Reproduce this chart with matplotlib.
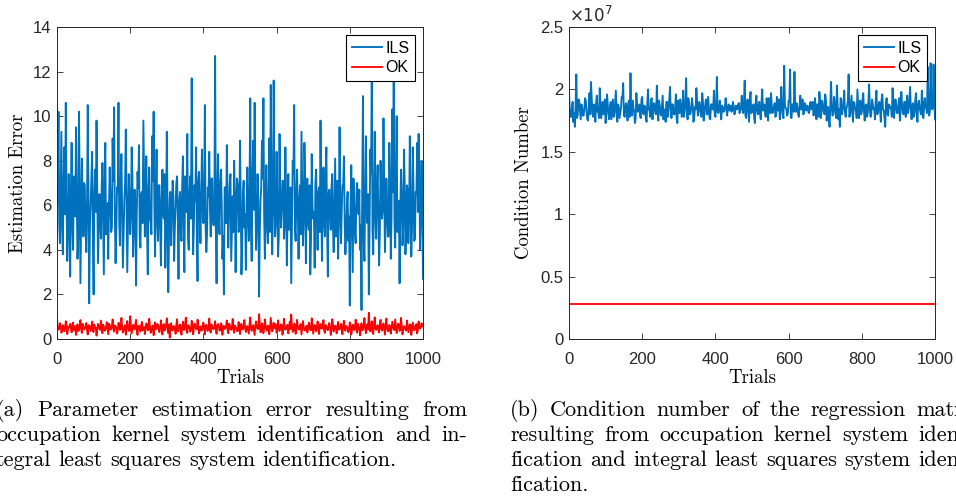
import numpy as np
import matplotlib
matplotlib.use("Agg")
import matplotlib.pyplot as plt
from matplotlib.ticker import FuncFormatter

# values, on two interleaved trial grids
trials_a = np.arange(0, 1001, 4)   # 0, 4, 8, ... 1000
trials_b = np.arange(2, 1000, 4)   # 2, 6, 10, ... 998

ils_err_a = [
    8.7, 10.2, 4.3, 9.3, 3.8, 8.6, 10.6, 3.5, 7.4, 2.8,
    8.8, 4.0, 7.2, 9.5, 3.6, 10.2, 2.5, 8.1, 4.6, 6.9,
    3.9, 10.5, 1.6, 6.1, 8.4, 2.0, 7.6, 9.8, 3.4, 6.5,
    4.5, 7.9, 2.9, 8.8, 5.0, 3.6, 7.7, 4.8, 9.0, 10.4,
    3.4, 6.8, 10.6, 4.2, 8.3, 3.2, 6.2, 9.4, 3.0, 7.4,
    4.7, 8.6, 3.7, 6.7, 2.4, 7.5, 8.7, 4.1, 6.6, 9.8,
    4.6, 8.2, 2.9, 7.7, 5.2, 9.1, 10.2, 3.7, 8.5, 4.4,
    6.9, 3.3, 7.6, 5.4, 3.2, 9.3, 2.1, 6.3, 4.2, 7.1,
    3.5, 5.9, 7.3, 2.7, 6.6, 4.4, 8.2, 3.0, 6.1, 9.2,
    4.0, 7.3, 11.7, 3.8, 6.9, 8.6, 2.6, 7.5, 4.3, 8.5,
    5.2, 10.5, 3.9, 6.8, 8.4, 4.6, 7.2, 5.1, 12.7, 2.5,
    8.3, 4.7, 7.6, 3.6, 2.0, 6.8, 8.7, 4.1, 7.0, 3.5,
    6.4, 8.0, 3.0, 7.2, 4.8, 8.9, 2.9, 6.5, 5.0, 3.1,
    7.7, 4.4, 10.8, 3.5, 8.9, 10.6, 4.0, 7.4, 1.9, 6.2,
    8.9, 10.8, 3.6, 7.8, 4.3, 9.0, 11.4, 3.8, 11.6, 4.6,
    8.4, 3.7, 9.2, 5.0, 7.1, 4.5, 8.6, 3.3, 7.4, 5.2,
    2.5, 8.0, 10.5, 4.4, 7.6, 3.6, 6.9, 9.3, 4.2, 8.8,
    3.4, 7.2, 4.9, 2.9, 8.3, 5.4, 3.2, 7.6, 4.0, 6.8,
    9.8, 3.5, 7.7, 4.6, 8.6, 2.8, 6.7, 4.9, 7.4, 3.9,
    8.1, 5.5, 3.6, 9.5, 4.3, 6.9, 8.2, 3.8, 6.0, 4.4,
    1.5, 7.8, 3.0, 6.1, 4.3, 7.0, 5.6, 4.0, 1.3, 10.9,
    3.5, 9.1, 5.2, 2.0, 8.5, 11.8, 3.8, 9.3, 4.5, 7.8,
    3.3, 8.0, 5.4, 9.9, 3.9, 7.2, 4.6, 8.8, 3.6, 10.3,
    11.8, 4.1, 10.0, 5.5, 2.5, 7.6, 4.2, 8.5, 3.8, 6.9,
    4.3, 9.1, 3.7, 8.6, 4.4, 6.6, 8.8, 9.2, 4.0, 8.0,
    2.7,
]
ils_err_b = [
    6.1, 5.2, 6.8, 4.9, 7.1, 5.6, 6.3, 4.7, 5.9, 6.6,
    5.0, 7.3, 5.5, 6.2, 4.6, 6.9, 5.3, 6.0, 7.0, 4.8,
    5.8, 6.5, 5.1, 7.2, 4.5, 6.4, 5.7, 6.7, 4.9, 5.4,
    6.8, 5.2, 7.4, 4.7, 6.1, 5.9, 6.3, 5.0, 7.1, 5.6,
    4.8, 6.6, 5.3, 6.9, 5.8, 4.6, 7.0, 6.2, 5.1, 6.4,
    5.5, 7.3, 4.9, 6.0, 5.7, 6.8, 4.5, 6.5, 5.2, 7.2,
    6.1, 5.0, 6.7, 5.4, 4.7, 7.1, 5.9, 6.3, 5.3, 6.9,
    4.8, 6.2, 5.6, 7.4, 5.1, 6.0, 4.6, 6.6, 5.8, 6.4,
    5.0, 7.0, 5.5, 6.1, 4.9, 6.8, 5.2, 7.3, 5.7, 4.5,
    6.5, 5.4, 6.9, 5.1, 6.2, 4.8, 7.1, 5.6, 6.3, 5.9,
    6.7, 5.0, 4.7, 6.4, 5.8, 7.2, 5.3, 6.0, 4.9, 6.6,
    5.5, 7.0, 6.1, 4.6, 6.8, 5.2, 6.3, 5.7, 7.4, 5.0,
    4.8, 6.5, 5.9, 6.9, 5.1, 6.2, 4.5, 7.1, 5.6, 6.0,
    5.4, 6.7, 4.9, 7.3, 5.8, 6.4, 5.2, 6.1, 4.7, 6.8,
    7.2, 5.5, 6.6, 5.0, 6.3, 4.8, 7.0, 5.7, 6.9, 5.3,
    6.0, 4.6, 6.5, 5.9, 7.1, 5.1, 6.2, 5.6, 4.9, 6.8,
    5.4, 7.4, 5.0, 6.4, 5.8, 6.1, 4.7, 6.7, 5.3, 7.2,
    6.3, 5.2, 6.9, 4.5, 6.0, 5.7, 7.0, 5.5, 6.6, 4.8,
    5.9, 6.2, 5.1, 7.3, 4.9, 6.5, 5.6, 6.8, 5.0, 6.1,
    4.6, 7.1, 5.4, 6.3, 5.8, 6.9, 5.2, 4.7, 6.6, 5.5,
    6.0, 5.3, 7.2, 4.8, 6.4, 5.9, 6.7, 5.1, 7.0, 4.5,
    6.2, 5.7, 6.5, 5.0, 7.4, 4.9, 6.1, 5.6, 6.8, 5.4,
    4.7, 6.3, 5.8, 7.1, 5.2, 6.0, 4.6, 6.9, 5.5, 6.6,
    5.3, 7.3, 4.8, 6.2, 5.9, 6.4, 5.1, 7.0, 4.9, 6.7,
    5.6, 6.1, 5.0, 6.8, 4.5, 6.5, 5.7, 7.2, 5.4, 6.3,
]

ok_err_a = [
    0.95, 0.42, 0.71, 0.28, 0.62, 0.35, 0.80, 0.22, 0.55, 0.68,
    0.30, 0.74, 0.45, 0.18, 0.66, 0.39, 0.85, 0.27, 0.58, 0.49,
    0.72, 0.20, 0.61, 0.36, 0.79, 0.31, 0.52, 0.15, 0.68, 0.44,
    0.83, 0.26, 0.57, 0.40, 0.76, 0.21, 0.63, 0.47, 0.88, 0.33,
    0.59, 0.24, 0.73, 0.41, 0.95, 0.29, 0.54, 0.19, 0.81, 0.37,
    1.02, 0.25, 0.64, 0.43, 0.86, 0.18, 0.60, 0.34, 0.77, 0.48,
    0.22, 0.70, 0.39, 0.91, 0.28, 0.56, 0.17, 0.75, 0.45, 0.62,
    0.31, 0.84, 0.20, 0.67, 0.50, 0.93, 0.26, 0.06, 0.71, 0.38,
    0.58, 0.23, 0.89, 0.35, 0.65, 0.19, 0.78, 0.42, 0.96, 0.27,
    0.61, 0.33, 0.82, 0.21, 0.69, 0.46, 0.87, 0.25, 0.57, 0.40,
    0.74, 0.20, 0.63, 0.36, 0.92, 0.29, 0.55, 0.44, 0.80, 0.23,
    0.67, 0.38, 0.71, 0.19, 0.59, 0.47, 0.83, 0.26, 0.64, 0.41,
    0.90, 0.28, 0.53, 0.35, 0.76, 0.22, 0.68, 0.43, 0.85, 0.31,
    0.58, 0.24, 0.97, 0.37, 0.62, 0.18, 0.79, 0.45, 1.12, 0.30,
    0.70, 0.26, 0.88, 0.40, 0.60, 0.21, 0.95, 0.34, 0.73, 0.48,
    0.27, 0.84, 0.36, 0.66, 0.19, 0.91, 0.42, 0.57, 0.25, 0.78,
    1.10, 0.32, 0.69, 0.23, 0.86, 0.44, 0.61, 0.20, 0.81, 0.38,
    0.55, 0.29, 0.74, 0.41, 0.93, 0.24, 0.63, 0.35, 0.79, 0.22,
    0.67, 0.46, 0.85, 0.27, 0.58, 0.39, 0.72, 0.18, 0.89, 0.33,
    0.60, 0.25, 0.77, 0.43, 0.68, 0.21, 0.82, 0.37, 0.56, 0.30,
    0.75, 0.20, 0.64, 0.40, 0.87, 0.28, 0.59, 0.16, 0.71, 0.45,
    0.94, 0.26, 0.66, 1.18, 0.34, 0.80, 0.22, 0.97, 0.41, 0.62,
    0.29, 0.86, 0.38, 0.70, 0.19, 0.92, 0.35, 0.63, 0.24, 0.78,
    0.44, 0.88, 0.27, 0.69, 0.36, 0.95, 0.21, 0.58, 0.42, 0.83,
    0.30, 0.66, 0.18, 0.74, 0.39, 0.60, 0.25, 0.79, 0.47, 0.71,
    0.56,
]
ok_err_b = [
    0.52, 0.45, 0.61, 0.38, 0.57, 0.49, 0.66, 0.42, 0.55, 0.47,
    0.63, 0.40, 0.58, 0.51, 0.36, 0.60, 0.46, 0.68, 0.43, 0.54,
    0.39, 0.62, 0.48, 0.57, 0.35, 0.65, 0.50, 0.44, 0.59, 0.41,
    0.56, 0.64, 0.37, 0.53, 0.47, 0.69, 0.42, 0.58, 0.45, 0.61,
    0.50, 0.38, 0.66, 0.44, 0.55, 0.40, 0.62, 0.48, 0.57, 0.36,
    0.60, 0.46, 0.53, 0.67, 0.41, 0.58, 0.49, 0.63, 0.39, 0.54,
    0.47, 0.65, 0.43, 0.56, 0.37, 0.61, 0.50, 0.45, 0.68, 0.42,
    0.55, 0.48, 0.62, 0.38, 0.59, 0.44, 0.66, 0.51, 0.40, 0.57,
    0.46, 0.63, 0.35, 0.58, 0.49, 0.54, 0.41, 0.67, 0.45, 0.60,
    0.52, 0.39, 0.64, 0.47, 0.56, 0.43, 0.61, 0.50, 0.37, 0.59,
    0.48, 0.62, 0.44, 0.55, 0.40, 0.66, 0.46, 0.53, 0.42, 0.60,
    0.57, 0.38, 0.63, 0.49, 0.45, 0.58, 0.41, 0.69, 0.47, 0.54,
    0.43, 0.61, 0.50, 0.36, 0.56, 0.64, 0.44, 0.59, 0.48, 0.52,
    0.40, 0.65, 0.46, 0.57, 0.39, 0.62, 0.51, 0.45, 0.68, 0.42,
    0.55, 0.47, 0.60, 0.37, 0.58, 0.49, 0.63, 0.43, 0.54, 0.66,
    0.41, 0.57, 0.48, 0.61, 0.38, 0.56, 0.45, 0.64, 0.50, 0.44,
    0.59, 0.36, 0.62, 0.47, 0.55, 0.42, 0.67, 0.49, 0.53, 0.40,
    0.60, 0.46, 0.58, 0.39, 0.65, 0.43, 0.56, 0.51, 0.44, 0.61,
    0.48, 0.54, 0.37, 0.63, 0.45, 0.57, 0.50, 0.41, 0.66, 0.47,
    0.52, 0.60, 0.42, 0.55, 0.38, 0.64, 0.46, 0.58, 0.49, 0.43,
    0.62, 0.40, 0.57, 0.51, 0.45, 0.68, 0.44, 0.53, 0.39, 0.60,
    0.47, 0.56, 0.42, 0.63, 0.50, 0.37, 0.59, 0.48, 0.54, 0.41,
    0.65, 0.45, 0.58, 0.43, 0.61, 0.49, 0.36, 0.57, 0.46, 0.62,
    0.40, 0.55, 0.50, 0.64, 0.44, 0.59, 0.47, 0.52, 0.38, 0.60,
    0.48, 0.63, 0.42, 0.56, 0.45, 0.67, 0.41, 0.54, 0.49, 0.58,
]

# condition numbers, in units of 1e7
ils_cond_a = [
    1.98, 1.78, 1.86, 1.74, 1.70, 2.12, 1.80, 1.91, 1.76, 1.85,
    1.79, 1.93, 1.82, 1.75, 1.97, 2.06, 1.81, 1.88, 1.74, 1.95,
    1.83, 2.01, 1.77, 1.90, 1.84, 1.73, 1.96, 1.80, 1.87, 1.76,
    1.92, 1.79, 1.99, 1.74, 1.86, 1.81, 1.94, 2.05, 1.78, 1.89,
    1.75, 1.91, 2.13, 1.79, 1.85, 1.73, 1.97, 1.82, 1.88, 1.77,
    1.94, 1.80, 1.86, 1.74, 2.00, 1.83, 1.91, 1.76, 1.89, 1.81,
    2.03, 1.75, 1.87, 1.79, 1.95, 1.82, 1.74, 1.90, 1.84, 2.02,
    1.77, 1.88, 1.80, 1.96, 1.73, 1.85, 1.92, 1.78, 1.99, 1.83,
    2.09, 1.76, 1.89, 1.81, 1.93, 1.74, 1.86, 2.01, 1.79, 1.90,
    1.82, 1.97, 1.75, 1.87, 1.80, 1.94, 1.77, 1.88, 1.84, 1.99,
    1.78, 2.10, 1.81, 1.91, 1.76, 1.86, 1.83, 1.93, 1.79, 1.88,
    1.85, 1.82, 1.90, 1.80, 1.87, 1.84, 1.89, 1.83, 1.95, 1.81,
    2.07, 1.77, 1.92, 1.74, 1.98, 1.82, 1.88, 1.73, 1.95, 1.80,
    1.90, 1.76, 2.00, 1.84, 1.79, 1.93, 1.75, 1.87, 1.97, 1.81,
    1.86, 1.78, 1.94, 1.83, 1.76, 2.02, 1.80, 2.19, 1.85, 1.79,
    1.91, 2.16, 1.77, 1.88, 2.14, 1.82, 1.86, 1.78, 1.95, 1.84,
    1.80, 1.89, 1.83, 1.87, 1.81, 1.90, 1.85, 1.79, 1.93, 1.76,
    1.88, 1.98, 1.77, 1.91, 1.82, 1.96, 1.75, 1.86, 1.70, 2.06,
    1.79, 1.94, 1.81, 2.03, 1.76, 1.70, 1.92, 1.84, 1.99, 1.78,
    1.87, 2.12, 1.80, 1.95, 1.74, 1.89, 1.83, 2.00, 1.77, 1.91,
    1.82, 1.97, 1.75, 1.88, 1.80, 2.04, 1.78, 1.92, 1.84, 1.76,
    1.99, 1.81, 1.90, 1.74, 1.96, 1.83, 1.70, 1.93, 1.79, 1.87,
    1.85, 2.01, 1.77, 1.92, 1.81, 1.88, 1.75, 1.98, 1.83, 1.90,
    1.78, 1.95, 1.84, 2.02, 1.76, 1.89, 1.80, 1.97, 1.74, 1.91,
    1.82, 1.99, 1.77, 1.93, 1.85, 2.18, 1.79, 2.21, 1.84, 2.20,
    1.76,
]
ils_cond_b = [
    1.84, 1.78, 1.90, 1.81, 1.87, 1.77, 1.92, 1.83, 1.88, 1.79,
    1.85, 1.91, 1.76, 1.86, 1.80, 1.93, 1.78, 1.84, 1.89, 1.82,
    1.77, 1.88, 1.85, 1.80, 1.92, 1.81, 1.87, 1.76, 1.90, 1.84,
    1.78, 1.89, 1.83, 1.88, 1.77, 1.85, 1.93, 1.80, 1.86, 1.81,
    1.89, 1.78, 1.84, 1.91, 1.82, 1.76, 1.88, 1.85, 1.79, 1.92,
    1.81, 1.87, 1.77, 1.90, 1.84, 1.78, 1.93, 1.82, 1.88, 1.80,
    1.85, 1.91, 1.81, 1.87, 1.76, 1.84, 1.90, 1.78, 1.92, 1.83,
    1.88, 1.80, 1.85, 1.77, 1.91, 1.81, 1.87, 1.84, 1.78, 1.89,
    1.83, 1.93, 1.80, 1.85, 1.88, 1.77, 1.84, 1.91, 1.81, 1.87,
    1.78, 1.90, 1.83, 1.92, 1.80, 1.85, 1.76, 1.88, 1.84, 1.81,
    1.86, 1.83, 1.85, 1.84, 1.87, 1.82, 1.86, 1.84, 1.85, 1.83,
    1.87, 1.84, 1.86, 1.82, 1.85, 1.88, 1.81, 1.86, 1.84, 1.89,
    1.79, 1.88, 1.83, 1.91, 1.81, 1.85, 1.77, 1.89, 1.84, 1.87,
    1.80, 1.90, 1.83, 1.88, 1.78, 1.85, 1.93, 1.81, 1.87, 1.84,
    1.89, 1.80, 1.85, 1.92, 1.82, 1.88, 1.77, 1.87, 1.84, 1.81,
    1.90, 1.78, 1.88, 1.82, 1.85, 1.89, 1.80, 1.87, 1.84, 1.92,
    1.81, 1.88, 1.85, 1.82, 1.87, 1.84, 1.90, 1.81, 1.85, 1.88,
    1.78, 1.91, 1.83, 1.87, 1.80, 1.92, 1.84, 1.76, 1.88, 1.85,
    1.81, 1.90, 1.77, 1.87, 1.84, 1.93, 1.80, 1.88, 1.82, 1.85,
    1.91, 1.78, 1.87, 1.81, 1.90, 1.84, 1.77, 1.88, 1.85, 1.80,
    1.92, 1.82, 1.87, 1.78, 1.90, 1.84, 1.81, 1.88, 1.85, 1.91,
    1.80, 1.87, 1.83, 1.92, 1.84, 1.77, 1.90, 1.81, 1.88, 1.85,
    1.78, 1.91, 1.84, 1.87, 1.81, 1.93, 1.82, 1.88, 1.80, 1.90,
    1.85, 1.81, 1.92, 1.84, 1.87, 1.78, 1.91, 1.82, 1.88, 1.85,
    1.80, 1.90, 1.84, 1.87, 1.81, 1.92, 1.82, 1.88, 1.85, 1.91,
]
ok_cond = 0.278  # constant over all trials, units of 1e7

cap_a = ["(a) Parameter estimation error resulting from",
         "occupation kernel system identification and in-",
         "tegral least squares system identification."]
cap_b = ["(b) Condition number of the regression matrix",
         "resulting from occupation kernel system identi-",
         "fication and integral least squares system identi-",
         "fication."]

blue = "#0072BD"
red = "#FF0000"
W, H = 956, 498
tick_font = "Liberation Sans"
serif = "cmr10"


def merged(a, b):
    x = np.concatenate([trials_a, trials_b])
    y = np.concatenate([a, b])
    order = np.argsort(x)
    return x[order], y[order]


fig = plt.figure(figsize=(W / 100, H / 100), dpi=100)


def style(ax):
    ax.tick_params(direction="in", top=True, right=True, length=4, width=0.6,
                   labelsize=12, colors="#262626", pad=4)
    ax.tick_params(axis="x", pad=9)
    for lab in ax.get_xticklabels() + ax.get_yticklabels():
        lab.set_fontfamily(tick_font)
    for s in ax.spines.values():
        s.set_color("#262626")
        s.set_linewidth(0.7)


def add_legend(ax):
    leg = ax.legend(loc="upper right", prop={"family": tick_font, "size": 11.5},
                    fancybox=False, edgecolor="black", framealpha=1,
                    borderaxespad=0.5, handlelength=1.9, handletextpad=0.2,
                    borderpad=0.35, labelspacing=0.3)
    leg.get_frame().set_linewidth(0.8)


ax1 = fig.add_axes([57 / W, 1 - 339 / H, 366 / W, 312 / H])
ax1.plot(*merged(ils_err_a, ils_err_b), color=blue, lw=1.35, label="ILS")
ax1.plot(*merged(ok_err_a, ok_err_b), color=red, lw=1.3, label="OK")
ax1.set_xlim(0, 1000)
ax1.set_ylim(0, 14)
ax1.set_xticks(range(0, 1001, 200))
ax1.set_yticks(range(0, 15, 2))
ax1.set_xlabel("Trials", fontfamily=serif, fontsize=13.5, labelpad=2)
ax1.set_ylabel("Estimation Error", fontfamily=serif, fontsize=13.5, labelpad=4)
style(ax1)
add_legend(ax1)

ax2 = fig.add_axes([569 / W, 1 - 339 / H, 366 / W, 312 / H])
tc, cond = merged(ils_cond_a, ils_cond_b)
ax2.plot(tc, cond * 1e7, color=blue, lw=1.35, label="ILS")
ax2.plot(trials_a, np.full(len(trials_a), ok_cond * 1e7), color=red, lw=1.3,
         label="OK")
ax2.set_xlim(0, 1000)
ax2.set_ylim(0, 2.5e7)
ax2.set_xticks(range(0, 1001, 200))
ax2.set_yticks(np.arange(0, 2.51e7, 0.5e7))
ax2.yaxis.set_major_formatter(FuncFormatter(lambda v, p: f"{v / 1e7:g}"))
ax2.set_xlabel("Trials", fontfamily=serif, fontsize=13.5, labelpad=2)
ax2.set_ylabel("Condition Number", fontfamily=serif, fontsize=13.5, labelpad=5)
style(ax2)
add_legend(ax2)
ax2.text(0.0, 1.006, r"$\times10^{7}$", transform=ax2.transAxes, fontsize=12,
         color="#262626", ha="left", va="bottom", family=tick_font)


# captions: justified lines, word widths measured on the renderer
cap_fs = 16
space = 0.333 * cap_fs * 100 / 72   # TeX interword space in pixels
renderer = fig.canvas.get_renderer()


def justified(lines, x0, x1, y0, step):
    for k, line in enumerate(lines):
        y = 1 - (y0 + k * step) / H
        words = line.split()
        texts = [fig.text(0, y, w, fontsize=cap_fs, family=serif, va="baseline")
                 for w in words]
        widths = [t.get_window_extent(renderer).width for t in texts]
        if k == len(lines) - 1:
            gap = space
        else:
            gap = (x1 - x0 - sum(widths)) / (len(words) - 1)
        x = x0
        for t, w in zip(texts, widths):
            t.set_x(x / W)
            x += w + gap


justified(cap_a, -4, 467, 416, 25)
justified(cap_b, 510, 981, 416, 25)

fig.savefig("out.png", dpi=100)
